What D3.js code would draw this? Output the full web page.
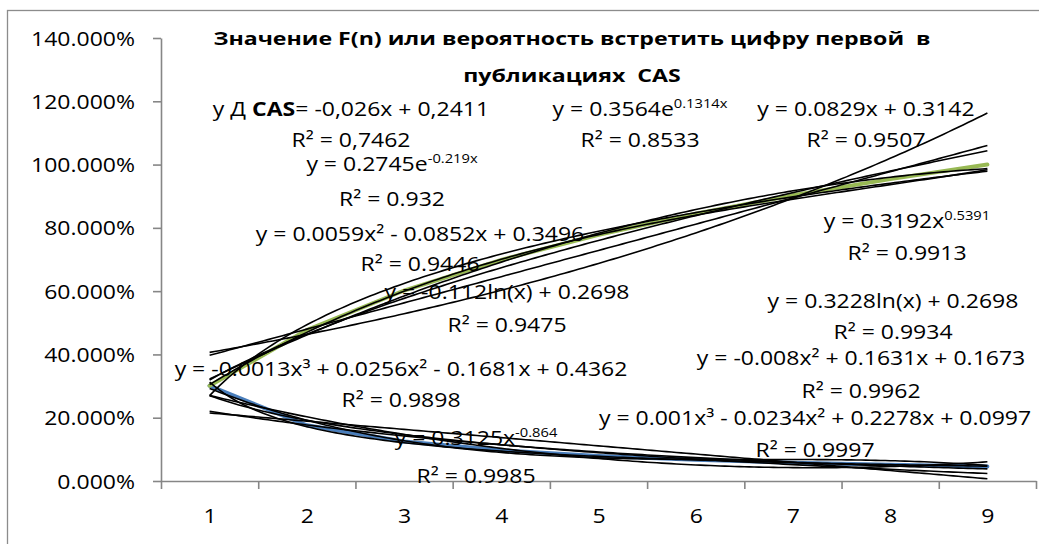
<!DOCTYPE html>
<html>
<head>
<meta charset="utf-8">
<script src="https://cdn.jsdelivr.net/npm/d3@7"></script>
<style>
  body { margin: 0; background: #fff; }
  text { font-family: "Open Sans", "Noto Sans", sans-serif; fill: #000; }
</style>
</head>
<body>
<svg id="chart"></svg>
<script>
// digit index 1..9
var categories = [1, 2, 3, 4, 5, 6, 7, 8, 9];
// probability of first digit (blue) and cumulative F(n) (green)
var probValues = [0.301, 0.176, 0.125, 0.097, 0.079, 0.067, 0.058, 0.051, 0.046];
var cumValues  = [0.301, 0.477, 0.602, 0.699, 0.778, 0.845, 0.903, 0.954, 1.000];
var yTicks = [0, 0.2, 0.4, 0.6, 0.8, 1.0, 1.2, 1.4];

// trendline coefficients as printed on the chart
var probTrends = [
  { type: "linear", c: [-0.026, 0.2411] },
  { type: "exp",    c: [0.2745, -0.219] },
  { type: "poly",   c: [0.0059, -0.0852, 0.3496] },
  { type: "log",    c: [-0.112, 0.2698] },
  { type: "power",  c: [0.3125, -0.864] },
  { type: "poly",   c: [-0.0013, 0.0256, -0.1681, 0.4362] }
];
var cumTrends = [
  { type: "linear", c: [0.0829, 0.3142] },
  { type: "exp",    c: [0.3564, 0.1314] },
  { type: "power",  c: [0.3192, 0.5391] },
  { type: "log",    c: [0.3228, 0.2698] },
  { type: "poly",   c: [-0.008, 0.1631, 0.1673] },
  { type: "poly",   c: [0.001, -0.0234, 0.2278, 0.0997] }
];

var titleLines = ["Значение F(n) или вероятность встретить цифру первой  в", "публикациях  CAS"];

// equation label texts: [text, style] parts; style n = normal, b = bold, s = superscript
var eqTexts = [
  [[["y Д ", "n"], ["CAS", "b"], ["= -0,026x + 0,2411", "n"]], [["R² = 0,7462", "n"]]],
  [[["y = 0.2745e", "n"], ["-0.219x", "s"]], [["R² = 0.932", "n"]]],
  [[["y = 0.0059x² - 0.0852x + 0.3496", "n"]], [["R² = 0.9446", "n"]]],
  [[["y = -0.112ln(x) + 0.2698", "n"]], [["R² = 0.9475", "n"]]],
  [[["y = -0.0013x³ + 0.0256x² - 0.1681x + 0.4362", "n"]], [["R² = 0.9898", "n"]]],
  [[["y = 0.3125x", "n"], ["-0.864", "s"]], [["R² = 0.9985", "n"]]],
  [[["y = 0.3564e", "n"], ["0.1314x", "s"]], [["R² = 0.8533", "n"]]],
  [[["y = 0.0829x + 0.3142", "n"]], [["R² = 0.9507", "n"]]],
  [[["y = 0.3192x", "n"], ["0.5391", "s"]], [["R² = 0.9913", "n"]]],
  [[["y = 0.3228ln(x) + 0.2698", "n"]], [["R² = 0.9934", "n"]]],
  [[["y = -0.008x² + 0.1631x + 0.1673", "n"]], [["R² = 0.9962", "n"]]],
  [[["y = 0.001x³ - 0.0234x² + 0.2278x + 0.0997", "n"]], [["R² = 0.9997", "n"]]]
];
// label placement: centre x, baseline of equation, baseline of R²
var eqPos = [
  [351, 116, 147], [392, 171, 206], [420, 241, 271], [507, 299, 332],
  [401, 376, 407], [476, 445, 483], [640, 116, 147], [866, 116, 147],
  [907, 228, 260], [893, 308, 339], [861, 365, 398], [815, 425, 457]
];

var width = 1039, height = 544;
var margin = { left: 161, right: 1036, top: 38, bottom: 481 };
var SX = 1.15, FS = 20;

var svg = d3.select("#chart").attr("width", width).attr("height", height);

svg.append("rect")
  .attr("x", 7.5).attr("y", 10.5)
  .attr("width", 1060).attr("height", 560)
  .attr("fill", "none").attr("stroke", "#8c8c8c").attr("stroke-width", 1.3);

var x = d3.scaleLinear().domain([0.5, 9.5]).range([margin.left, margin.right]);
var y = d3.scaleLinear().domain([0, 1.4]).range([margin.bottom, margin.top]);

function fit(t, v) {
  var c = t.c;
  if (t.type == "linear") return c[0] * v + c[1];
  if (t.type == "exp") return c[0] * Math.exp(c[1] * v);
  if (t.type == "log") return c[0] * Math.log(v) + c[1];
  if (t.type == "power") return c[0] * Math.pow(v, c[1]);
  var s = 0;
  for (var i = 0; i < c.length; i++) s = s * v + c[i];
  return s;
}

// axes
var yAxis = svg.append("g")
  .attr("transform", "translate(" + margin.left + ",0)")
  .call(d3.axisLeft(y).tickValues(yTicks).tickSize(8).tickSizeOuter(0).tickFormat(d3.format(".3%")));
yAxis.selectAll("text")
  .style("font-size", FS + "px").attr("dy", null)
  .attr("x", -26 / SX).attr("y", 7)
  .attr("transform", "scale(" + SX + ",1)");

var xTickVals = d3.range(0.5, 10, 1);
svg.append("g")
  .attr("transform", "translate(0," + margin.bottom + ")")
  .call(d3.axisBottom(x).tickValues(xTickVals).tickSize(8).tickSizeOuter(0).tickFormat(""));

var xLabels = svg.append("g")
  .attr("transform", "translate(0," + margin.bottom + ")")
  .call(d3.axisBottom(x).tickValues(categories).tickSize(0).tickFormat(d3.format("d")));
xLabels.select(".domain").remove();
xLabels.selectAll("text")
  .style("font-size", FS + "px").attr("dy", null).attr("y", 42)
  .attr("transform", "scale(" + SX + ",1)");

svg.selectAll(".domain, .tick line")
  .attr("stroke", "#868686").attr("stroke-width", 1.6);

// series
var line = d3.line()
  .x(function(d, i) { return x(categories[i]); })
  .y(function(d) { return y(d); });

svg.append("path").datum(probValues)
  .attr("d", line).attr("fill", "none")
  .attr("stroke", "#4a7ebb").attr("stroke-width", 4).attr("stroke-linecap", "round");
svg.append("path").datum(cumValues)
  .attr("d", line).attr("fill", "none")
  .attr("stroke", "#98b954").attr("stroke-width", 4).attr("stroke-linecap", "round");

// trendlines
var steps = d3.range(1, 9.001, 0.05);
var trendLine = d3.line()
  .x(function(d) { return x(d[0]); })
  .y(function(d) { return y(d[1]); });

probTrends.concat(cumTrends).forEach(function(t) {
  svg.append("path")
    .datum(steps.map(function(v) { return [v, fit(t, v)]; }))
    .attr("d", trendLine).attr("fill", "none")
    .attr("stroke", "#000").attr("stroke-width", 1.6);
});

// title
svg.append("g").selectAll("text")
  .data(titleLines).enter().append("text")
  .attr("transform", function(d, i) { return "translate(572," + (45 + i * 37) + ") scale(1.25,1)"; })
  .attr("text-anchor", "middle")
  .style("font-size", "18.5px").style("font-weight", "bold")
  .style("white-space", "pre")
  .text(function(d) { return d; });

// equation labels
function putText(cx, by, parts) {
  var t = svg.append("text")
    .attr("transform", "translate(" + cx + "," + by + ") scale(" + SX + ",1)")
    .attr("text-anchor", "middle")
    .style("font-size", FS + "px");
  parts.forEach(function(p) {
    var ts = t.append("tspan").text(p[0]);
    if (p[1] == "b") ts.style("font-weight", "bold");
    if (p[1] == "s") ts.style("font-size", (FS * 0.64) + "px").attr("dy", -FS * 0.38);
  });
}

eqTexts.forEach(function(e, i) {
  var p = eqPos[i];
  putText(p[0], p[1], e[0]);
  putText(p[0], p[2], e[1]);
});
</script>
</body>
</html>
